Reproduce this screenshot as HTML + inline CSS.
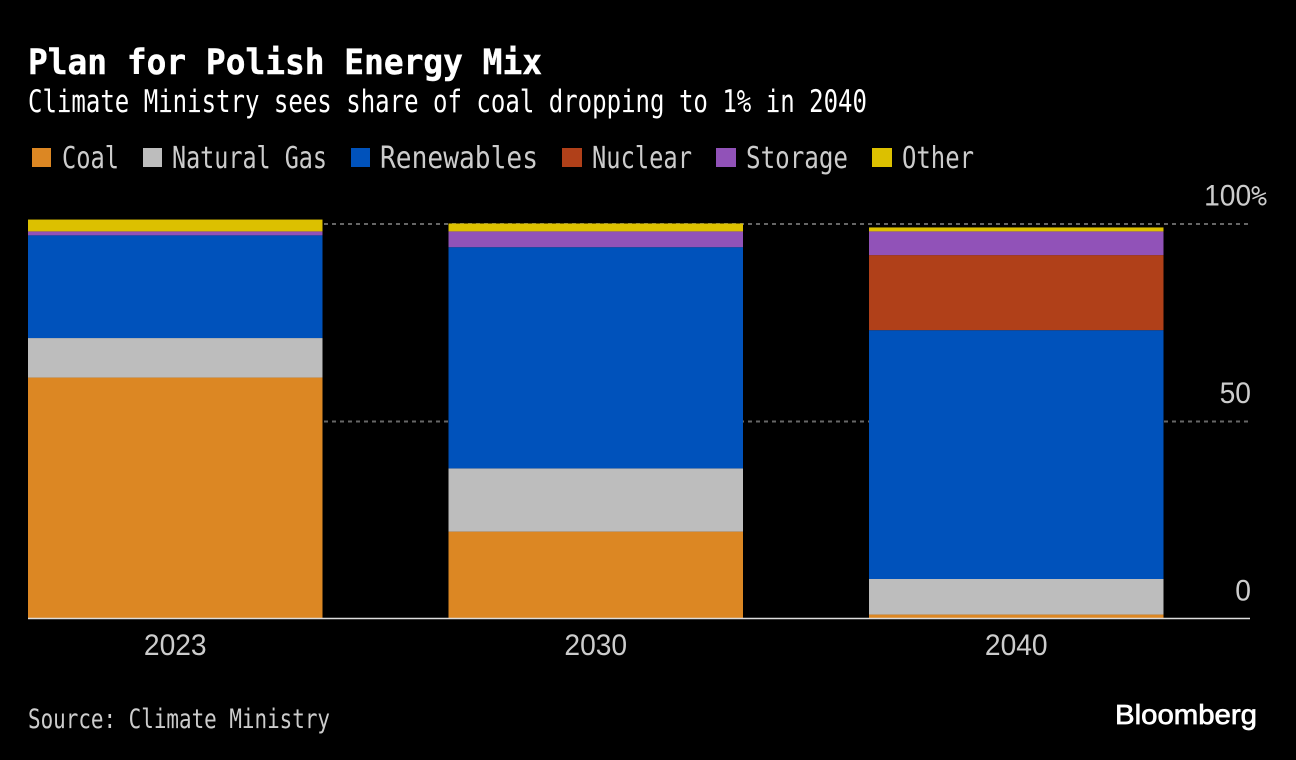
<!DOCTYPE html>
<html>
<head>
<meta charset="utf-8">
<style>
html,body{margin:0;padding:0;background:#000;width:1296px;height:760px;overflow:hidden}
svg{display:block}
text{font-family:"DejaVu Sans Mono","Liberation Mono",monospace}
.num{font-family:"Liberation Sans",sans-serif}
</style>
</head>
<body>
<svg id="chart" width="1296" height="760" viewBox="0 0 1296 760" xmlns="http://www.w3.org/2000/svg">
<rect width="1296" height="760" fill="#000"/>
<text x="28" y="74" font-size="35" font-weight="700" fill="#fff" stroke="#fff" stroke-width="0.4" textLength="514" lengthAdjust="spacingAndGlyphs">Plan for Polish Energy Mix</text>
<text x="28" y="112" font-size="31" fill="#fff" textLength="839" lengthAdjust="spacingAndGlyphs">Climate Ministry sees share of coal dropping to 1% in 2040</text>
<g>
<rect x="32" y="148" width="19" height="19" fill="#dc8723"/>
<text x="62" y="168" font-size="30" fill="#ccc" textLength="57" lengthAdjust="spacingAndGlyphs">Coal</text>
<rect x="143" y="148" width="19" height="19" fill="#bdbdbd"/>
<text x="172" y="168" font-size="30" fill="#ccc" textLength="155" lengthAdjust="spacingAndGlyphs">Natural Gas</text>
<rect x="351" y="148" width="19" height="19" fill="#0052bb"/>
<text x="380" y="168" font-size="30" fill="#ccc" textLength="158" lengthAdjust="spacingAndGlyphs">Renewables</text>
<rect x="562" y="148" width="20" height="19" fill="#b04019"/>
<text x="592" y="168" font-size="30" fill="#ccc" textLength="100" lengthAdjust="spacingAndGlyphs">Nuclear</text>
<rect x="716" y="148" width="20" height="19" fill="#9152b8"/>
<text x="746" y="168" font-size="30" fill="#ccc" textLength="102" lengthAdjust="spacingAndGlyphs">Storage</text>
<rect x="872" y="148" width="20" height="19" fill="#dcc000"/>
<text x="902" y="168" font-size="30" fill="#ccc" textLength="72" lengthAdjust="spacingAndGlyphs">Other</text>
</g>
<g id="grid"></g>
<g id="bars"></g>
<g id="axes"></g>
<text x="28" y="728" font-size="27" fill="#ccc" textLength="302" lengthAdjust="spacingAndGlyphs">Source: Climate Ministry</text>
<text x="1115" y="724" font-size="28" fill="#fff" stroke="#fff" stroke-width="0.7" style="font-family:'Liberation Sans',sans-serif" textLength="142" lengthAdjust="spacingAndGlyphs">Bloomberg</text>
</svg>
<script>
var years = ["2023", "2030", "2040"];
var seriesNames = ["coal", "natural-gas", "renewables", "nuclear", "storage", "other"];
var seriesColors = ["#dc8723", "#bdbdbd", "#0052bb", "#b04019", "#9152b8", "#dcc000"];
var coal = [61, 22, 1];
var naturalGas = [10, 16, 9];
var renewables = [26, 56, 63];
var nuclear = [0, 0, 19];
var storage = [1, 4, 6];
var other = [3, 2, 1];
var yTicks = [0, 50, 100];
var yTickLabels = ["0", "50", "100%"];

var NS = "http://www.w3.org/2000/svg";
var allSeries = [coal, naturalGas, renewables, nuclear, storage, other];
function yScale(v) { return 618.5 - 3.95 * v; }
function xScale(i) { return 28 + 420.5 * i; }
var bandWidth = 294.5;

function make(tag, attrs, parent) {
  var el = document.createElementNS(NS, tag);
  for (var k in attrs) { el.setAttribute(k, attrs[k]); }
  parent.appendChild(el);
  return el;
}

var gridG = document.getElementById("grid");
var barsG = document.getElementById("bars");
var axesG = document.getElementById("axes");

yTicks.forEach(function (t, i) {
  if (t !== 0) {
    var line = make("line", { x1: 28, x2: 1250, y1: yScale(t) + 0.5, y2: yScale(t) + 0.5, stroke: "#666", "stroke-width": 2, "stroke-dasharray": "4 4" }, gridG);
    
    
  }
  var lab = yTickLabels[i];
  var hasPct = lab.indexOf("%") >= 0;
  var tx = hasPct ? 1267 : 1251;
  var label = make("text", { "class": "num", transform: "translate(" + tx + "," + (yScale(t) - 18) + ") scale(0.94,1)", "font-size": 30, fill: "#ccc", "text-anchor": "end" }, axesG);
  
  
  label.appendChild(document.createTextNode(lab.replace("%", "")));
  if (hasPct) {
    var pct = make("tspan", { style: "font-family:'DejaVu Sans Mono',monospace", "font-size": 28 }, label);
    pct.textContent = "%";
  }
});

years.forEach(function (year, i) {
  var base = 0;
  allSeries.forEach(function (values, s) {
    var v = values[i];
    if (v > 0) {
      var top = yScale(base + v);
      var rect = make("rect", { x: xScale(i), y: top, width: bandWidth, height: yScale(base) - top, fill: seriesColors[s] }, barsG);
      
      
      rect.setAttribute('data-series', seriesNames[s]);
    }
    base += v;
  });
  var label = make("text", { "class": "num", transform: "translate(" + (xScale(i) + bandWidth / 2) + ",655) scale(0.94,1)", "font-size": 30, fill: "#ccc", "text-anchor": "middle" }, axesG);
  label.textContent = year;
  
  
});

var baseline = make("line", { x1: 28, x2: 1250, y1: yScale(0), y2: yScale(0), stroke: "#ddd", "stroke-width": 1.5 }, axesG);


</script>
</body>
</html>
